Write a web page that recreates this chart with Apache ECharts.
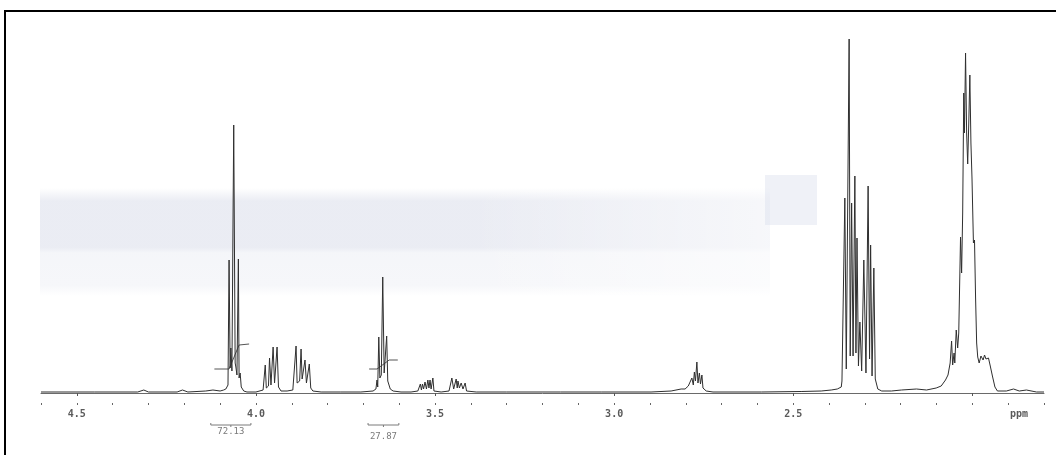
<!DOCTYPE html>
<html>
<head>
<meta charset="utf-8">
<script src="https://cdn.jsdelivr.net/npm/echarts@6/dist/echarts.min.js"></script>
<style>
  html, body { margin: 0; padding: 0; background: #ffffff; }
  #chart { width: 1056px; height: 455px; }
</style>
</head>
<body>
<div id="chart"></div>
<script>
// 1H NMR trace: [chemical shift (ppm), signal height] read region by region
const baselineLeft = [[4.600, 1], [4.450, 1], [4.330, 1], [4.313, 3], [4.300, 1], [4.220, 1], [4.205, 3], [4.190, 1], [4.140, 2], [4.120, 3], [4.100, 2], [4.090, 3]];
const multipletA = [[4.084, 4], [4.078, 8], [4.075, 133], [4.072, 25], [4.070, 45], [4.067, 22], [4.062, 268], [4.058, 30], [4.056, 26], [4.053, 18], [4.049, 134], [4.047, 15], [4.044, 20], [4.041, 6], [4.034, 2], [4.025, 1], [4.000, 1]];
const multipletB = [[3.980, 3], [3.974, 28], [3.971, 5], [3.965, 7], [3.962, 35], [3.958, 8], [3.955, 10], [3.952, 46], [3.948, 10], [3.944, 12], [3.941, 46], [3.937, 6], [3.930, 2], [3.913, 2]];
const multipletC = [[3.897, 3], [3.888, 47], [3.885, 10], [3.878, 12], [3.874, 44], [3.871, 14], [3.867, 16], [3.863, 33], [3.859, 10], [3.855, 8], [3.851, 29], [3.847, 5], [3.841, 2], [3.818, 1], [3.763, 1], [3.707, 1], [3.673, 2]];
const multipletD = [[3.665, 4], [3.662, 13], [3.660, 6], [3.657, 56], [3.654, 15], [3.650, 18], [3.646, 116], [3.642, 20], [3.639, 22], [3.635, 57], [3.632, 12], [3.628, 13], [3.625, 4], [3.617, 2], [3.595, 1]];
const multipletE = [[3.567, 1], [3.548, 2], [3.541, 9], [3.538, 3], [3.535, 9], [3.532, 4], [3.528, 11], [3.524, 4], [3.520, 13], [3.517, 5], [3.514, 13], [3.511, 4], [3.506, 15], [3.503, 2], [3.483, 1]];
const multipletF = [[3.461, 2], [3.453, 15], [3.448, 4], [3.441, 14], [3.438, 5], [3.436, 12], [3.432, 5], [3.427, 10], [3.422, 4], [3.416, 10], [3.412, 2], [3.385, 1], [3.300, 1], [3.150, 1], [3.036, 1], [2.897, 1]];
const multipletG = [[2.841, 2], [2.813, 4], [2.802, 4], [2.793, 7], [2.788, 9], [2.783, 15], [2.779, 8], [2.776, 21], [2.773, 12], [2.769, 31], [2.766, 10], [2.762, 20], [2.759, 9], [2.755, 18], [2.752, 5], [2.743, 2], [2.724, 1], [2.589, 1], [2.478, 1.5], [2.422, 2], [2.394, 3], [2.377, 4], [2.366, 6]];
const multipletH = [[2.364, 12], [2.356, 195], [2.352, 24], [2.344, 354], [2.341, 37], [2.337, 190], [2.333, 37], [2.328, 217], [2.325, 40], [2.322, 155], [2.318, 27], [2.314, 71], [2.309, 22], [2.303, 133], [2.297, 20], [2.291, 207], [2.287, 34], [2.284, 148], [2.280, 17], [2.275, 125], [2.271, 14], [2.264, 4], [2.253, 2], [2.226, 2], [2.198, 3], [2.156, 4], [2.128, 3], [2.101, 5], [2.087, 7], [2.075, 13]];
const multipletI = [[2.068, 18], [2.062, 30], [2.058, 52], [2.055, 28], [2.051, 40], [2.049, 30], [2.045, 63], [2.041, 45], [2.038, 60], [2.033, 156], [2.030, 120], [2.027, 180], [2.024, 300], [2.022, 260], [2.019, 340], [2.016, 260], [2.013, 229], [2.010, 270], [2.007, 318], [2.004, 250], [2.001, 215], [1.997, 150], [1.994, 153], [1.991, 95], [1.988, 50], [1.985, 36], [1.981, 30], [1.976, 37], [1.970, 33], [1.966, 38], [1.962, 34], [1.955, 35], [1.950, 27], [1.944, 17], [1.937, 6], [1.930, 2], [1.905, 2], [1.885, 4], [1.869, 2], [1.849, 3], [1.821, 1], [1.800, 1]];

// Integral trace segments beside the two integrated multiplets
const integralTraceA = [[4.116, 24], [4.075, 24], [4.047, 48], [4.019, 49]];
const integralTraceD = [[3.684, 24], [3.662, 24], [3.628, 33], [3.604, 33]];

// Integration brackets and their relative areas
const integralFrom = [4.126, 3.687];
const integralTo = [4.014, 3.601];
const integralArea = [72.13, 27.87];

// Axis ticks and labels (ppm)
const majorTicks = [4.5, 4.0, 3.5, 3.0, 2.5, 2.0];
const labelledTicks = [4.5, 4.0, 3.5, 3.0, 2.5];
const unitLabelAt = 1.87;
const unitLabel = 'ppm';

const trace = [].concat(baselineLeft, multipletA, multipletB, multipletC, multipletD,
  multipletE, multipletF, multipletG, multipletH, multipletI);

const bracketLevel = -32;
const labelDrop = [7, 12];
const inkGrey = '#7a7a7a';

const chart = echarts.init(document.getElementById('chart'), null, { renderer: 'canvas' });

// soft vertical fade used for the grey band behind the trace
const bandFade = new echarts.graphic.LinearGradient(0, 0, 0, 1, [
  { offset: 0, color: 'rgba(214,218,232,0)' },
  { offset: 0.12, color: 'rgba(214,218,232,0.5)' },
  { offset: 0.55, color: 'rgba(214,218,232,0.5)' },
  { offset: 0.6, color: 'rgba(214,218,232,0.25)' },
  { offset: 0.9, color: 'rgba(214,218,232,0.22)' },
  { offset: 1, color: 'rgba(214,218,232,0)' }]);
// white wash that lets the band die out towards the right
const bandWash = new echarts.graphic.LinearGradient(0, 0, 1, 0, [
  { offset: 0, color: 'rgba(255,255,255,0)' },
  { offset: 1, color: 'rgba(255,255,255,0.6)' }]);

chart.setOption({
  animation: false,
  backgroundColor: '#ffffff',
  grid: { left: 41, right: 12, top: 33, bottom: 50, outerBoundsMode: 'none', containLabel: false },
  xAxis: [
    {
      type: 'value', min: 1.8, max: 4.6, inverse: true,
      axisLine: { show: true, lineStyle: { color: '#6a6a6a', width: 1 } },
      axisTick: { show: true, inside: false, length: 3, customValues: majorTicks, lineStyle: { color: '#555' } },
      axisLabel: {
        show: true, margin: 4,
        customValues: labelledTicks.concat([unitLabelAt]),
        formatter: v => (Math.abs(v - unitLabelAt) < 1e-6 ? unitLabel : v.toFixed(1)),
        fontFamily: 'DejaVu Sans Mono', fontSize: 10, fontWeight: 'bold', color: '#5a5a5a'
      },
      splitLine: { show: false }
    },
    {
      type: 'value', min: 1.8, max: 4.6, inverse: true, interval: 0.1, position: 'bottom',
      axisLine: { show: false },
      axisTick: { show: true, inside: true, length: 2, lineStyle: { color: '#666' } },
      axisLabel: { show: false },
      splitLine: { show: false }
    }
  ],
  yAxis: { type: 'value', min: -12, max: 360, show: false, splitLine: { show: false } },
  graphic: [
    // scanner haze across the middle of the sheet
    { type: 'rect', z: -10, shape: { x: 40, y: 188, width: 730, height: 108 },
      style: { fill: bandFade } },
    { type: 'rect', z: -9, shape: { x: 470, y: 180, width: 300, height: 124 },
      style: { fill: bandWash } },
    { type: 'rect', z: -8, shape: { x: 765, y: 175, width: 52, height: 50 },
      style: { fill: 'rgba(214,221,236,0.4)' } },
    // sheet frame
    { type: 'rect', z: 100, shape: { x: 5, y: 11, width: 1070, height: 470 },
      style: { fill: 'none', stroke: '#000', lineWidth: 2 } }
  ],
  series: [
    {
      type: 'line', name: 'spectrum', xAxisIndex: 0, data: trace,
      showSymbol: false, symbol: 'none', smooth: false,
      lineStyle: { color: '#2f2f2f', width: 1 }, z: 3
    },
    {
      type: 'line', name: 'integral A', xAxisIndex: 0, data: integralTraceA,
      showSymbol: false, symbol: 'none', lineStyle: { color: '#555', width: 1 }, z: 2
    },
    {
      type: 'line', name: 'integral D', xAxisIndex: 0, data: integralTraceD,
      showSymbol: false, symbol: 'none', lineStyle: { color: '#555', width: 1 }, z: 2
    },
    {
      type: 'custom', name: 'integrals', xAxisIndex: 0, clip: false,
      data: integralFrom.map((f, i) => [f, integralTo[i], integralArea[i], i]),
      encode: { x: [0, 1] },
      renderItem: function (params, api) {
        const a = api.coord([api.value(0), bracketLevel]);
        const b = api.coord([api.value(1), bracketLevel]);
        const mid = (a[0] + b[0]) / 2;
        const drop = labelDrop[api.value(3)];
        return {
          type: 'group',
          children: [
            { type: 'polyline', shape: { points: [[a[0], a[1] - 2], [a[0], a[1]], [b[0], b[1]], [b[0], b[1] - 2]] },
              style: { stroke: inkGrey, lineWidth: 1, fill: 'none' } },
            { type: 'line', shape: { x1: mid, y1: a[1], x2: mid, y2: a[1] + 2 },
              style: { stroke: inkGrey, lineWidth: 1 } },
            { type: 'text', x: mid, y: a[1] + drop,
              style: { text: api.value(2).toFixed(2), align: 'center', verticalAlign: 'middle',
                       font: '9px "DejaVu Sans Mono"', fill: inkGrey } }
          ]
        };
      }
    }
  ]
});
</script>
</body>
</html>
